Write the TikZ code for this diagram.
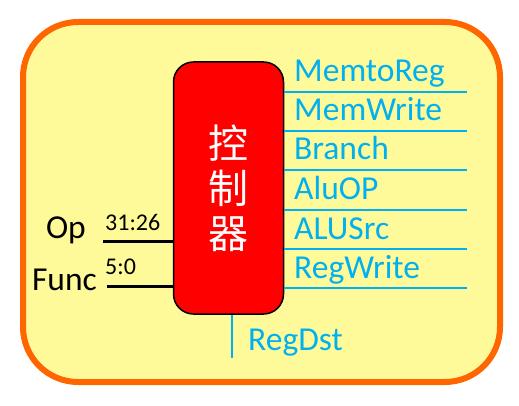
\documentclass[tikz,border=0pt]{standalone}
\usepackage{fontspec}
\setmainfont{Carlito}
\newfontfamily\cjk{Noto Sans CJK SC}
\usepackage{xcolor}
\usetikzlibrary{calc}
\definecolor{bgyellow}{HTML}{FFFA99}
\definecolor{frameorange}{HTML}{FF6600}
\definecolor{sigblue}{HTML}{00B0F0}

\begin{document}
\begin{tikzpicture}[x=1pt,y=-1pt]

                \tikzstyle{signal} = [sigblue, line width=2pt]
                \tikzstyle{siglabel} = [anchor=base west, inner sep=0pt, text=sigblue, font=\fontsize{33.5}{33.5}\selectfont]
                \tikzstyle{inwire} = [black, line width=3pt]
                \tikzstyle{bits} = [anchor=base west, inner sep=0pt, font=\fontsize{24}{24}\selectfont]

                \useasboundingbox (0,0) rectangle (519,406);

                % frame
                \draw [frameorange, fill=bgyellow, line width=6pt, rounded corners=55pt] (23,22) rectangle (500,382);

                % control unit
                \node [draw=black, fill=red, line width=1.5pt, rounded corners=20pt,
                       minimum width=110pt, minimum height=252pt, inner sep=0pt,
                       text=white, align=center, font=\cjk\fontsize{40}{45}\selectfont]
                       (ctrl) at (228.5,188) {控\\制\\器};

                % outputs
                \foreach \y/\name in {92/MemtoReg, 131/MemWrite, 170/Branch, 210/AluOP, 249/ALUSrc, 288/RegWrite}
                {
                        \coordinate (o\name) at (467,\y);
                        \draw [signal] (ctrl.east |- o\name) -- (o\name);
                        \node [siglabel] (l\name) at (294,\y-10) {\name};
                }

                \coordinate (oRegDst) at (232,358);
                \draw [signal] (ctrl.south -| oRegDst) -- (oRegDst);
                \node [siglabel] (lRegDst) at (248,350) {RegDst};

                % inputs
                \coordinate (iOp) at (103,241);
                \coordinate (iFunc) at (107,286);
                \draw [inwire] (iOp) -- (ctrl.west |- iOp);
                \draw [inwire] (iFunc) -- (ctrl.west |- iFunc);

                \node [anchor=base east, inner sep=0pt, font=\fontsize{33.5}{33.5}\selectfont] (lOp) at (86,238) {Op};
                \node [anchor=base east, inner sep=0pt, font=\fontsize{33.5}{33.5}\selectfont] (lFunc) at (97,290) {Func};
                \node [bits] (bOp) at (105,230) {31:26};
                \node [bits] (bFunc) at (105,274) {5:0};

\end{tikzpicture}
\end{document}
